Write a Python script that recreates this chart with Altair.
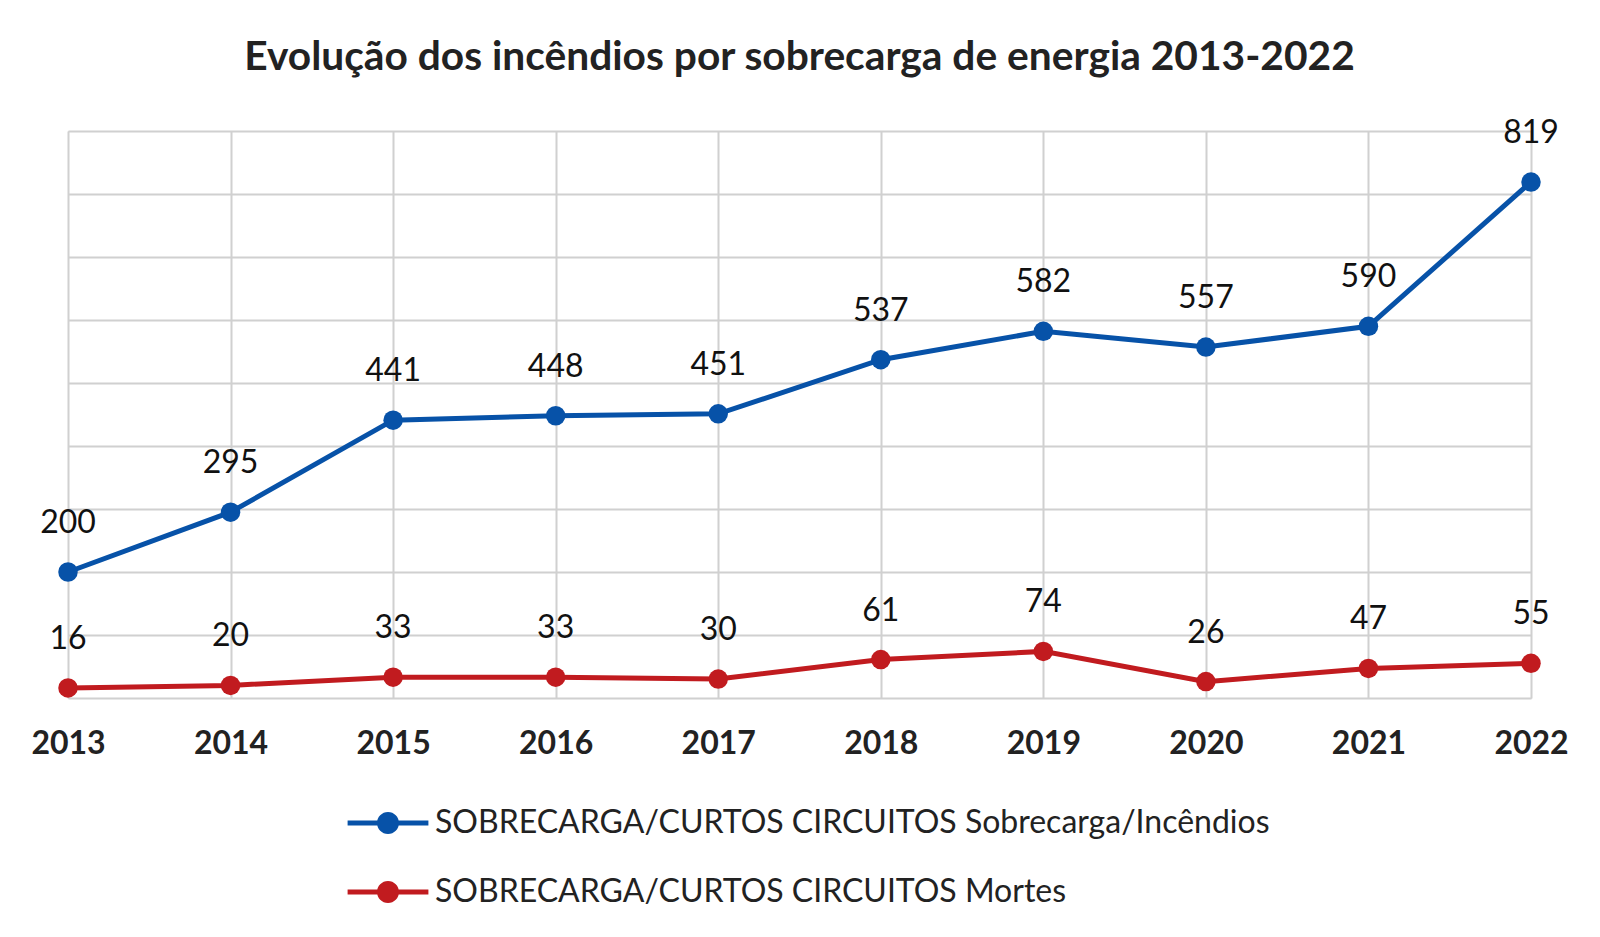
import altair as alt
import pandas as pd

years = ["2013", "2014", "2015", "2016", "2017", "2018", "2019", "2020", "2021", "2022"]
incendios = [200, 295, 441, 448, 451, 537, 582, 557, 590, 819]
mortes = [16, 20, 33, 33, 30, 61, 74, 26, 47, 55]
series_names = [
    "SOBRECARGA/CURTOS CIRCUITOS Sobrecarga/Incêndios",
    "SOBRECARGA/CURTOS CIRCUITOS Mortes",
]
colors = ["#0752A8", "#C11B1F"]

rows = []
for y, v in zip(years, incendios):
    rows.append({"year": y, "value": v, "serie": series_names[0]})
for y, v in zip(years, mortes):
    rows.append({"year": y, "value": v, "serie": series_names[1]})
df = pd.DataFrame(rows)

FONT = "Lato"

x = alt.X("year:O", title=None, scale=alt.Scale(padding=0),
          axis=alt.Axis(labelAngle=0, labelFontSize=32, labelFontWeight="bold",
                        labelColor="#222222", labelFont=FONT, labelPadding=30,
                        ticks=False, domain=False, grid=True,
                        gridColor="#d0d0d0", gridWidth=2))
y = alt.Y("value:Q", title=None, scale=alt.Scale(domain=[0, 900], nice=False),
          axis=alt.Axis(values=list(range(0, 901, 100)), labels=False, ticks=False,
                        domain=False, grid=True, gridColor="#d0d0d0", gridWidth=2))

sym_path = ("M-2.02,-0.125 L2.02,-0.125 L2.02,0.125 L-2.02,0.125 Z "
            "M0.55,0 A0.55,0.55 0 1,1 -0.55,0 A0.55,0.55 0 1,1 0.55,0 Z")

base = alt.Chart(df)
lines = [
    base.transform_filter(alt.datum.serie == name)
        .mark_line(strokeWidth=5, color=col)
        .encode(x=x, y=y)
    for name, col in zip(series_names, colors)
]
points = base.mark_point(filled=True, size=380, opacity=1).encode(
    x=x, y=y,
    fill=alt.Fill("serie:N", scale=alt.Scale(domain=series_names, range=colors),
                  legend=alt.Legend(title=None, orient="none", legendX=300, legendY=672,
                                    direction="vertical", symbolType=sym_path,
                                    symbolSize=1600, symbolStrokeWidth=0,
                                    labelFontSize=32, labelFont=FONT, labelColor="#222222",
                                    labelOffset=27, rowPadding=33, padding=0,
                                    labelLimit=1200, symbolOpacity=1)),
)
labels = base.mark_text(dy=-49, fontSize=32, font=FONT, color="#111111",
                        baseline="middle").encode(
    x=x, y=y, text="value:Q",
)

chart = alt.layer(*lines, points, labels).properties(
    width=1463, height=567,
    title=alt.TitleParams("Evolução dos incêndios por sobrecarga de energia 2013-2022",
                          fontSize=40.7, fontWeight="bold", font=FONT, color="#222222",
                          anchor="middle", offset=38),
    autosize=alt.AutoSizeParams(type="none"),
    padding={"left": 60, "top": 123, "right": 50, "bottom": 214},
).configure_view(stroke=None).configure(background="white")

chart.save("out.html", embed_options={"renderer": "svg", "actions": False})
